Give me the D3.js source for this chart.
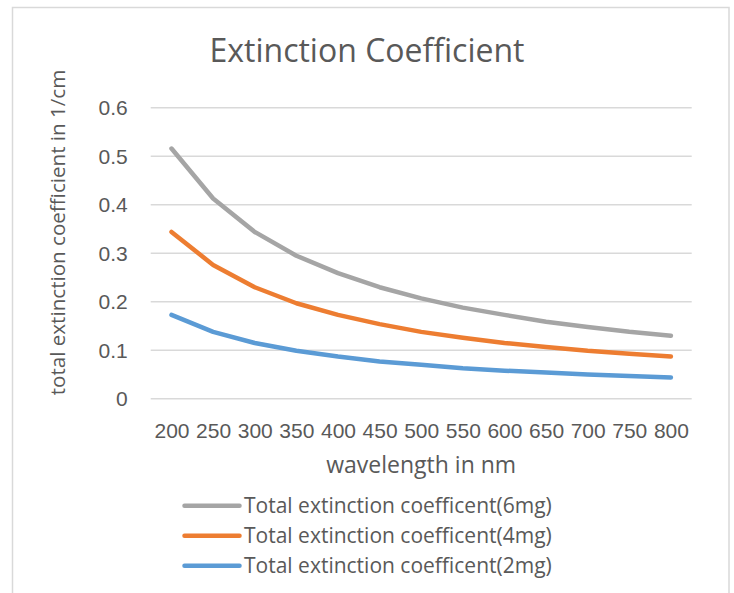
<!DOCTYPE html>
<html>
<head>
<meta charset="utf-8">
<script src="https://cdn.jsdelivr.net/npm/d3@7"></script>
<style>
  html, body { margin: 0; padding: 0; background: #fff; }
  svg { display: block; font-family: "Open Sans", sans-serif; }
</style>
</head>
<body>
<svg id="chart" width="734" height="593"></svg>
<script>
// Wavelength categories (nm)
const wavelengths = ["200", "250", "300", "350", "400", "450", "500", "550", "600", "650", "700", "750", "800"];

// Total extinction coefficient (1/cm) for each sample mass
const ext6mg = [0.515, 0.412, 0.343, 0.294, 0.258, 0.229, 0.206, 0.187, 0.172, 0.158, 0.147, 0.137, 0.129];
const ext4mg = [0.343, 0.275, 0.229, 0.196, 0.172, 0.153, 0.137, 0.125, 0.114, 0.106, 0.098, 0.092, 0.086];
const ext2mg = [0.172, 0.137, 0.114, 0.098, 0.086, 0.076, 0.069, 0.062, 0.057, 0.053, 0.049, 0.046, 0.043];

const yTicks = [0, 0.1, 0.2, 0.3, 0.4, 0.5, 0.6];

const seriesNames = [
  "Total extinction coefficent(6mg)",
  "Total extinction coefficent(4mg)",
  "Total extinction coefficent(2mg)"
];
const seriesColors = ["#A5A5A5", "#ED7D31", "#5B9BD5"];
const seriesValues = [ext6mg, ext4mg, ext2mg];

const series = seriesNames.map((name, i) => ({ name, color: seriesColors[i], values: seriesValues[i] }));

const textColor = "#595959";
const gridColor = "#D9D9D9";

const svg = d3.select("#chart");

// Chart frame
svg.append("rect")
  .attr("x", 12.5).attr("y", 7.5)
  .attr("width", 716.5).attr("height", 600)
  .attr("fill", "#fff")
  .attr("stroke", gridColor)
  .attr("stroke-width", 1.5);

const plot = { left: 150.7, right: 691.7, top: 107.3, bottom: 398.3 };

const x = d3.scalePoint()
  .domain(wavelengths)
  .range([plot.left, plot.right])
  .padding(0.5);

const y = d3.scaleLinear()
  .domain([0, 0.6])
  .range([plot.bottom, plot.top]);

// Horizontal gridlines with value labels
const yAxis = d3.axisLeft(y)
  .tickValues(yTicks)
  .tickSize(-(plot.right - plot.left))
  .tickPadding(23)
  .tickFormat(d => d === 0 ? "0" : d3.format(".1f")(d));

const gy = svg.append("g")
  .attr("transform", `translate(${plot.left},0)`)
  .call(yAxis);
gy.select(".domain").remove();
gy.selectAll(".tick line").attr("stroke", gridColor).attr("stroke-width", 1.5);
gy.selectAll(".tick text")
  .attr("fill", textColor)
  .attr("font-size", 21)
  .attr("dy", "0.36em");

// Category labels along the bottom
const xAxis = d3.axisBottom(x).tickSize(0).tickPadding(0);
const gx = svg.append("g")
  .attr("transform", `translate(0,${plot.bottom})`)
  .call(xAxis);
gx.select(".domain").remove();
gx.selectAll(".tick text")
  .attr("fill", textColor)
  .attr("font-size", 21)
  .attr("dy", null)
  .attr("y", 40);

// Data lines
const line = d3.line()
  .x((d, i) => x(wavelengths[i]))
  .y(d => y(d));

svg.append("g")
  .selectAll("path")
  .data(series)
  .join("path")
  .attr("d", d => line(d.values))
  .attr("fill", "none")
  .attr("stroke", d => d.color)
  .attr("stroke-width", 4.5)
  .attr("stroke-linecap", "round")
  .attr("stroke-linejoin", "round");

// Title
svg.append("text")
  .attr("x", 367).attr("y", 62)
  .attr("text-anchor", "middle")
  .attr("fill", textColor)
  .attr("font-size", 32)
  .text("Extinction Coefficient");

// Axis titles
svg.append("text")
  .attr("x", (plot.left + plot.right) / 2).attr("y", 473)
  .attr("text-anchor", "middle")
  .attr("fill", textColor)
  .attr("font-size", 23)
  .text("wavelength in nm");

svg.append("text")
  .attr("transform", "translate(65,232.5) rotate(-90)")
  .attr("text-anchor", "middle")
  .attr("fill", textColor)
  .attr("font-size", 20.6)
  .text("total extinction coefficient in 1/cm");

// Legend
const legend = svg.append("g")
  .selectAll("g")
  .data(series)
  .join("g")
  .attr("transform", (d, i) => `translate(184.5,${505.7 + i * 30})`);

legend.append("line")
  .attr("x1", 0).attr("x2", 55)
  .attr("stroke", d => d.color)
  .attr("stroke-width", 4.5)
  .attr("stroke-linecap", "round");

legend.append("text")
  .attr("x", 59.5).attr("y", 7.5)
  .attr("fill", textColor)
  .attr("font-size", 21)
  .text(d => d.name);
</script>
</body>
</html>
